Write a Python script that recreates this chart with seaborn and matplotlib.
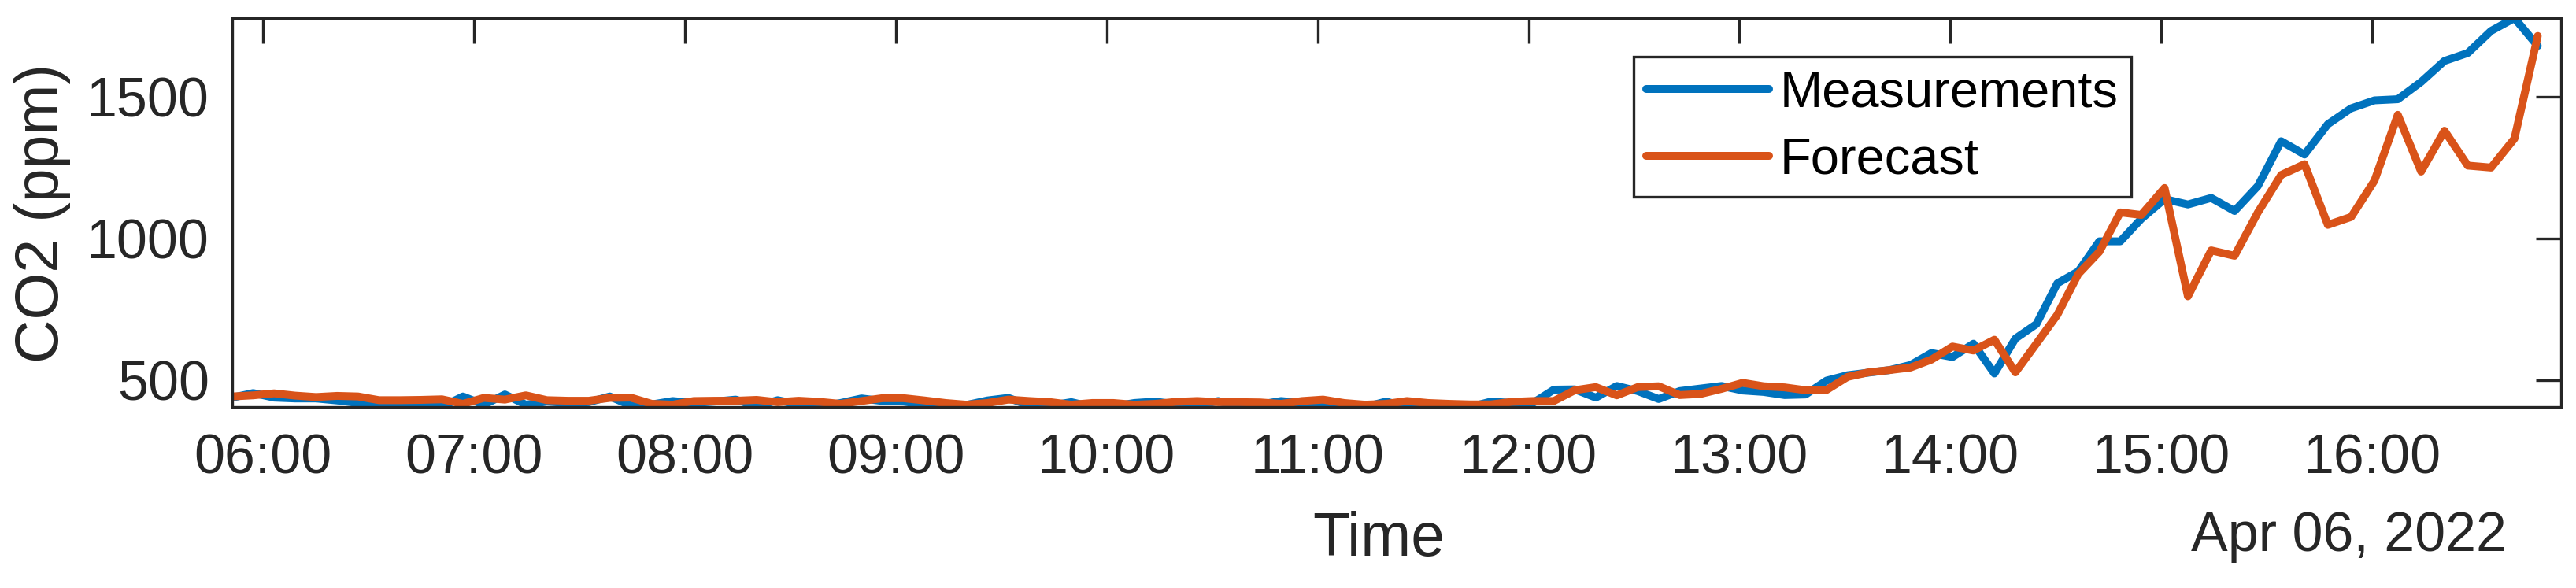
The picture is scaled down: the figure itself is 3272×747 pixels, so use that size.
import matplotlib
matplotlib.use('Agg')
import matplotlib.pyplot as plt
import matplotlib.dates as mdates
import pandas as pd
import seaborn as sns

# --------------------------
# Data
# --------------------------
t_start = '2022-04-06 05:51:18'
n_first, step_first = 92, '358s'    # regular part of the log
n_second, step_second = 17, '398s'  # slightly wider spacing after ~14:54
x_end = '2022-04-06 16:53:40'
date_label = 'Apr 06, 2022'

measurements = [
    440, 456, 440, 437, 437, 430, 421, 416, 416, 412,
    408, 444, 415, 451, 415, 426, 421, 424, 444, 412,
    416, 428, 421, 426, 433, 410, 431, 416, 407, 421,
    437, 428, 426, 416, 407, 414, 430, 439, 412, 412,
    424, 407, 409, 421, 426, 416, 412, 428, 409, 416,
    428, 421, 407, 412, 407, 426, 407, 412, 412, 407,
    426, 421, 421, 468, 469, 440, 481, 463, 435, 463,
    472, 481, 465, 460, 449, 451, 500, 519, 528, 537,
    555, 597, 583, 630, 525, 648, 699, 843, 885, 991,
    991, 1070, 1140, 1121, 1144, 1098, 1186, 1344, 1297, 1404,
    1460, 1488, 1492, 1553, 1627, 1655, 1733, 1778, 1680,
]
forecast = [
    444, 448, 455, 447, 442, 446, 444, 431, 431, 432,
    434, 418, 439, 433, 448, 431, 429, 429, 439, 440,
    418, 415, 428, 429, 429, 432, 424, 429, 425, 418,
    428, 438, 438, 430, 421, 415, 421, 433, 428, 424,
    415, 421, 421, 415, 418, 425, 428, 424, 424, 423,
    418, 428, 433, 421, 415, 418, 428, 421, 418, 416,
    416, 425, 428, 428, 466, 477, 448, 477, 480, 449,
    453, 471, 492, 480, 476, 466, 467, 513, 529, 537,
    546, 574, 620, 606, 644, 529, 630, 732, 876, 954,
    1093, 1084, 1179, 797, 959, 940, 1093, 1225, 1263, 1049,
    1077, 1205, 1437, 1237, 1381, 1258, 1251, 1353, 1715,
]

series_names = ['Measurements', 'Forecast']
colors = {'Measurements': '#0072BD', 'Forecast': '#D95319'}

# --------------------------
# Build the table
# --------------------------
first = pd.date_range(t_start, periods=n_first, freq=step_first)
second = pd.date_range(first[-1], periods=n_second + 1, freq=step_second)[1:]
times = first.append(second)

df = pd.DataFrame({'Time': times, 'Measurements': measurements, 'Forecast': forecast})
df = df.melt(id_vars='Time', var_name='Series', value_name='CO2')

# --------------------------
# Plot
# --------------------------
sns.set_theme(style='white')
plt.rcParams['font.family'] = ['Liberation Sans', 'DejaVu Sans']

ink = '#262626'
fig = plt.figure(figsize=(32.73, 7.47), dpi=100)
ax = fig.add_axes([0.0901, 0.3079, 0.9038, 0.6613])

sns.lineplot(data=df, x='Time', y='CO2', hue='Series', hue_order=series_names,
             palette=colors, linewidth=7.2, ax=ax, legend=False,
             solid_joinstyle='round', solid_capstyle='round')

ax.set_xlim(times[0], pd.Timestamp(x_end))
ax.set_ylim(df['CO2'].min(), df['CO2'].max())

ax.xaxis.set_major_locator(mdates.HourLocator())
ax.xaxis.set_major_formatter(mdates.DateFormatter('%H:%M'))
ax.set_yticks([500, 1000, 1500])

ax.tick_params(direction='in', length=22.8, width=2.4, top=True, right=True,
               labelsize=50.4, colors=ink, labelcolor=ink)
ax.tick_params(axis='x', pad=24)
ax.tick_params(axis='y', pad=21)

for sp in ax.spines.values():
    sp.set_visible(True)
    sp.set_color(ink)
    sp.set_linewidth(2.4)

ax.set_xlabel('Time', fontsize=55.4, color=ink, va='top')
ax.xaxis.set_label_coords(0.4922, -0.267)
ax.set_ylabel('CO2 (ppm)', fontsize=55.4, color=ink)
ax.yaxis.label.set(rotation_mode='default', va='center', ha='center')
ax.yaxis.set_label_coords(-0.0815, 0.498)

ax.text(0.9089, -0.267, date_label, transform=ax.transAxes, ha='center', va='top',
        fontsize=50.4, color=ink)

leg = ax.legend(ax.lines[:2], series_names, loc='upper left',
                bbox_to_anchor=(0.6018, 0.9008), borderaxespad=0,
                frameon=True, fancybox=False, edgecolor=ink, framealpha=1,
                fontsize=46.8, handlelength=2.4, handletextpad=0.2,
                borderpad=0.25, labelspacing=0.39)
leg.get_frame().set_linewidth(2.4)
for txt in leg.get_texts():
    txt.set_color('black')

fig.savefig('out.png', dpi=100)
